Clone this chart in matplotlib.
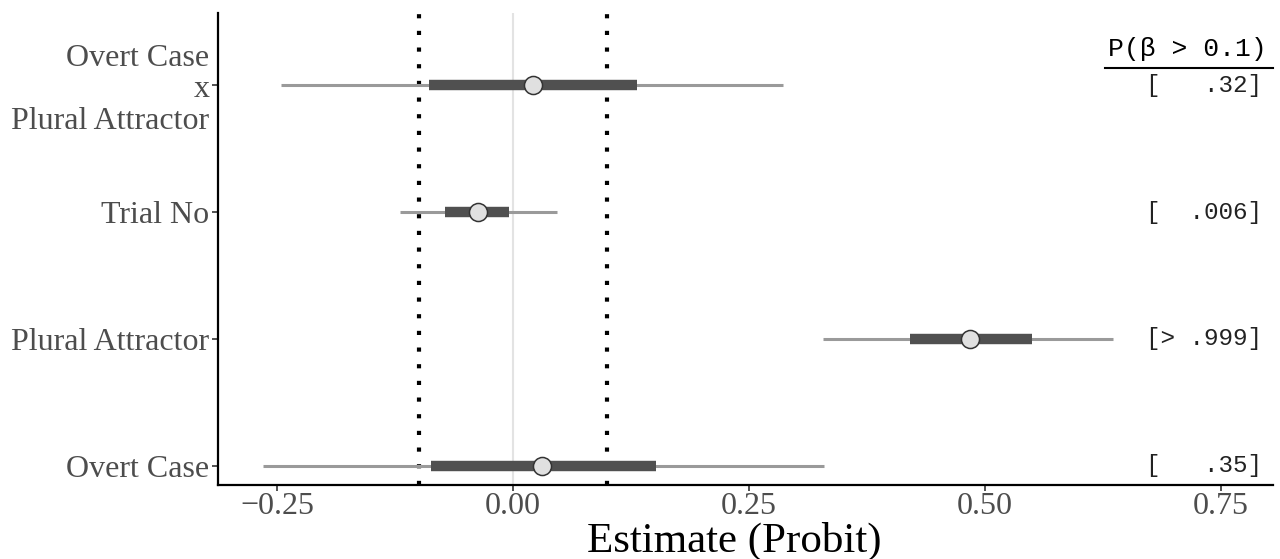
import matplotlib
matplotlib.use("Agg")
import matplotlib.pyplot as plt

# Data (bottom to top)
terms = ["Overt Case", "Plural Attractor", "Trial No", "Overt Case\nx\nPlural Attractor"]
estimate = [0.031, 0.484, -0.037, 0.021]
inner_lo = [-0.087, 0.421, -0.072, -0.089]
inner_hi = [0.151, 0.550, -0.004, 0.131]
outer_lo = [-0.265, 0.328, -0.120, -0.246]
outer_hi = [0.329, 0.636, 0.047, 0.286]
prob_labels = ["[   .35]", "[> .999]", "[  .006]", "[   .32]"]
xticks = [-0.25, 0.0, 0.25, 0.50, 0.75]
xtick_labels = ["\u22120.25", "0.00", "0.25", "0.50", "0.75"]
rope = 0.1

fig = plt.figure(figsize=(12.8, 5.59), dpi=100)
ax = fig.add_axes([0.1701, 0.1324, 0.9945 - 0.1701, 0.9773 - 0.1324])

ypos = list(range(1, len(terms) + 1))

ax.axvline(0, color="#e3e3e3", lw=1.5, zorder=1)
for xv in (-rope, rope):
    ax.axvline(xv, color="black", lw=3, linestyle=(0, (1, 3)), zorder=2)

for y, lo, hi in zip(ypos, outer_lo, outer_hi):
    ax.plot([lo, hi], [y, y], color="#9a9a9a", lw=2.2, solid_capstyle="butt", zorder=3)
for y, lo, hi in zip(ypos, inner_lo, inner_hi):
    ax.plot([lo, hi], [y, y], color="#505050", lw=7.5, solid_capstyle="butt", zorder=4)
ax.plot(estimate, ypos, linestyle="none", marker="o", markersize=13,
        markerfacecolor="#e0e0e0", markeredgecolor="#333333", markeredgewidth=1.1, zorder=5)

for y, s in zip(ypos, prob_labels):
    ax.text(0.7935, y, s, ha="right", va="center", family="Liberation Mono",
            fontsize=17.5, color="#222222", zorder=6)

ax.text(0.7985, 4.285, "P(\u03b2 > 0.1)", ha="right", va="center",
        family=["Liberation Mono", "DejaVu Sans"], fontsize=19, color="black")
ax.plot([0.6268, 0.805], [4.138, 4.138], color="black", lw=1.5, clip_on=False)

ax.set_xlim(-0.3128, 0.805)
ax.set_ylim(0.85, 4.57)
ax.set_yticks(ypos)
ax.set_yticklabels(terms, family="Liberation Serif", fontsize=23, color="#4d4d4d",
                   linespacing=1.12)
ax.set_xticks(xticks)
ax.set_xticklabels(xtick_labels, family="Liberation Serif", fontsize=23, color="#4d4d4d")
ax.tick_params(axis="x", pad=1)

fig.text(0.574, 0.012, "Estimate (Probit)", ha="center", va="baseline",
         family="Liberation Serif", fontsize=31, color="black")

for side in ("top", "right"):
    ax.spines[side].set_visible(False)
for side in ("left", "bottom"):
    ax.spines[side].set_linewidth(1.6)
    ax.spines[side].set_color("black")
ax.tick_params(axis="both", length=4, width=1.2, color="#333333")
ax.tick_params(axis="y", pad=2)

fig.savefig("out.png", dpi=100)
